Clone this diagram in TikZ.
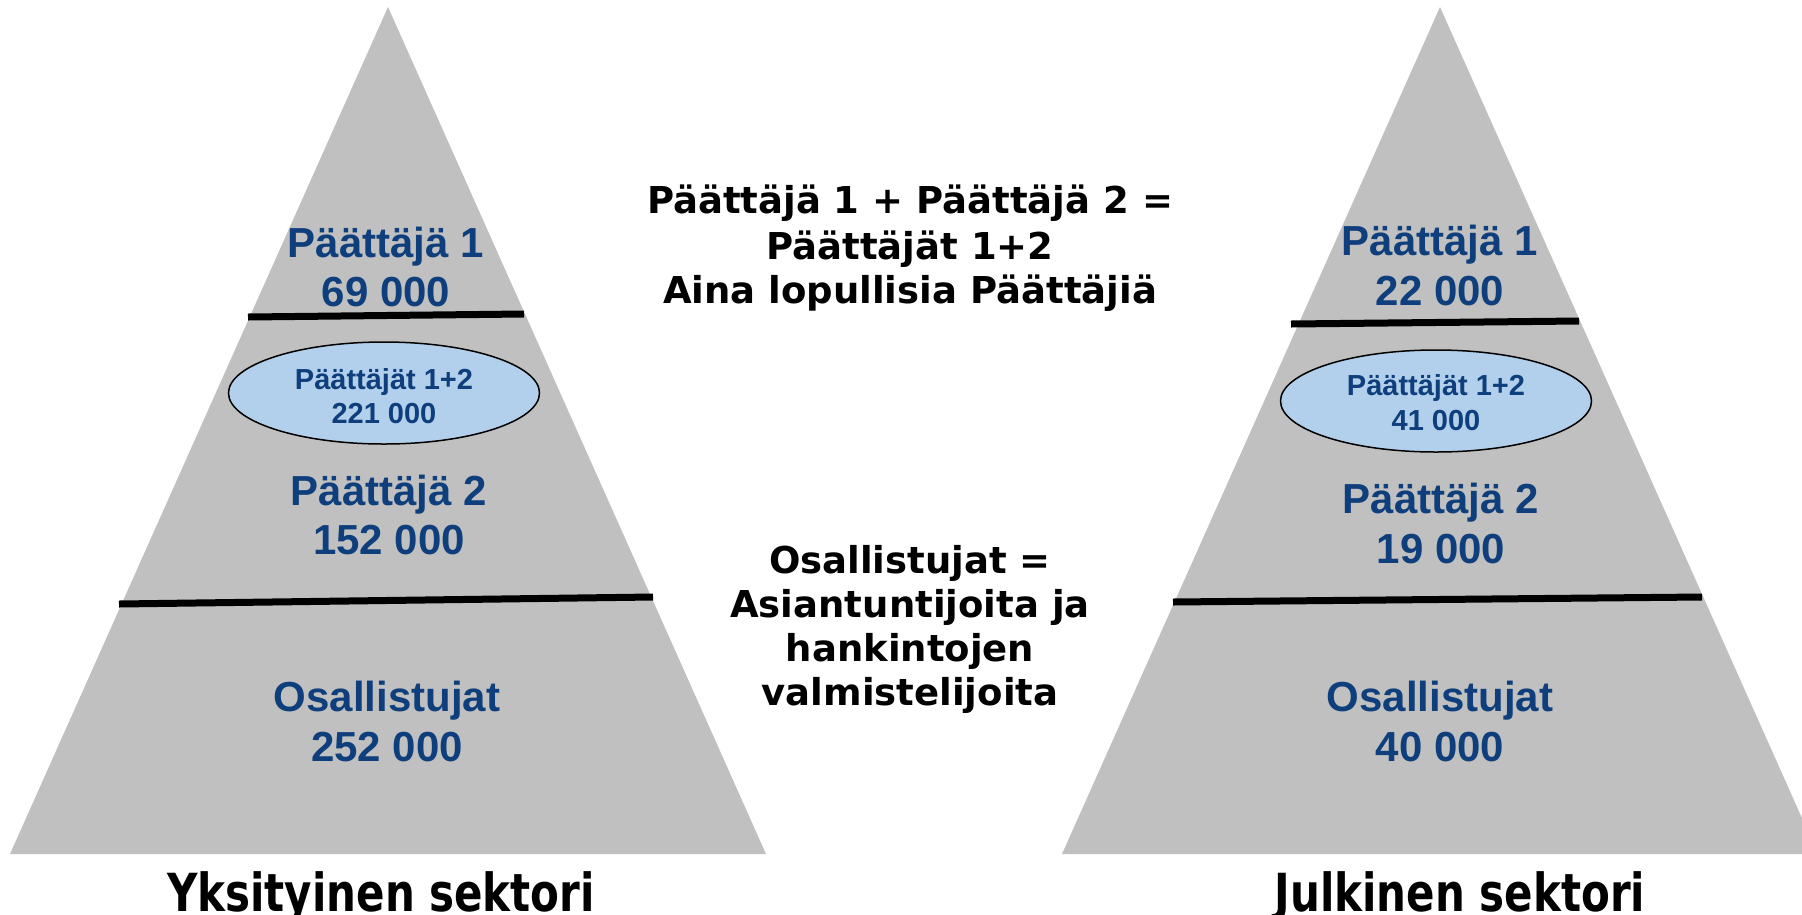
\documentclass[tikz,border=0pt]{standalone}
\usepackage{fontspec}
\usepackage{graphicx}
\setmainfont{DejaVu Sans}
\newfontfamily\arialfont{Liberation Sans}
\usetikzlibrary{shapes.geometric}
\definecolor{pyrgray}{RGB}{192,192,192}
\definecolor{textblue}{RGB}{14,63,124}
\definecolor{ellblue}{RGB}{178,208,236}
\begin{document}
\begin{tikzpicture}[x=1pt,y=-1pt,
  pyramid/.style={fill=pyrgray, draw=none},
  divider/.style={line width=7pt, black},
  bluebig/.style={font=\arialfont\bfseries\fontsize{42}{49}\selectfont, text=textblue, anchor=base, inner sep=0pt},
  bluesmall/.style={font=\arialfont\bfseries\fontsize{29}{34}\selectfont, text=textblue, anchor=base, inner sep=0pt},
  blacktext/.style={font=\bfseries\fontsize{37}{44}\selectfont, anchor=base, inner sep=0pt},
  sectorlabel/.style={font=\bfseries\fontsize{42}{50}\selectfont, anchor=base, inner sep=0pt},
  oval/.style={ellipse, draw=black, line width=1.5pt, fill=ellblue, minimum width=311pt, minimum height=102pt, inner sep=0pt}
]
\useasboundingbox (0,0) rectangle (1802,914);
\clip (0,0) rectangle (1802,914);

% pyramids
\fill[pyramid] (388,7) -- (10,854) -- (766,854) -- cycle;
\fill[pyramid] (1440,7) -- (1062,854) -- (1818,854) -- cycle;

% dividers (left)
\coordinate (l1a) at (248,317);
\coordinate (l1b) at (524,314);
\coordinate (l2a) at (119,604);
\coordinate (l2b) at (653,597);
\draw[divider] (l1a) -- (l1b);
\draw[divider] (l2a) -- (l2b);
% dividers (right)
\coordinate (r1a) at (1291,324);
\coordinate (r1b) at (1579,321);
\coordinate (r2a) at (1173,602);
\coordinate (r2b) at (1702,597);
\draw[divider] (r1a) -- (r1b);
\draw[divider] (r2a) -- (r2b);

% ellipses
\node[oval] (lell) at (384,393) {};
\node[oval] (rell) at (1436,401) {};

% left pyramid texts
\node[bluebig] (lp1) at (386,257) {Päättäjä 1};
\node[bluebig] (lp1n) at (386,306) {69 000};
\node[bluesmall] (lp12) at (384,389) {Päättäjät 1+2};
\node[bluesmall] (lp12n) at (384,423) {221 000};
\node[bluebig] (lp2) at (389,505) {Päättäjä 2};
\node[bluebig] (lp2n) at (389,554) {152 000};
\node[bluebig] (los) at (387,711) {Osallistujat};
\node[bluebig] (losn) at (387,761) {252 000};

% right pyramid texts
\node[bluebig] (rp1) at (1440,255) {Päättäjä 1};
\node[bluebig] (rp1n) at (1440,305) {22 000};
\node[bluesmall] (rp12) at (1436,395) {Päättäjät 1+2};
\node[bluesmall] (rp12n) at (1436,430) {41 000};
\node[bluebig] (rp2) at (1441,513) {Päättäjä 2};
\node[bluebig] (rp2n) at (1441,563) {19 000};
\node[bluebig] (ros) at (1440,711) {Osallistujat};
\node[bluebig] (rosn) at (1440,761) {40 000};

% middle explanations
\node[blacktext] (m1) at (910,213) {Päättäjä 1 + Päättäjä 2 =};
\node[blacktext] (m2) at (910,259) {Päättäjät 1+2};
\node[blacktext] (m3) at (910,303) {Aina lopullisia Päättäjiä};
\node[blacktext] (o1) at (910,573) {Osallistujat =};
\node[blacktext] (o2) at (910,617) {Asiantuntijoita ja};
\node[blacktext] (o3) at (910,661) {hankintojen};
\node[blacktext] (o4) at (910,705) {valmistelijoita};

% sector labels
\node[sectorlabel] (lsec) at (381,911) {\scalebox{1}[1.25]{Yksityinen sektori}};
\node[sectorlabel] (rsec) at (1460,911) {\scalebox{1}[1.25]{Julkinen sektori}};
\end{tikzpicture}
\end{document}
